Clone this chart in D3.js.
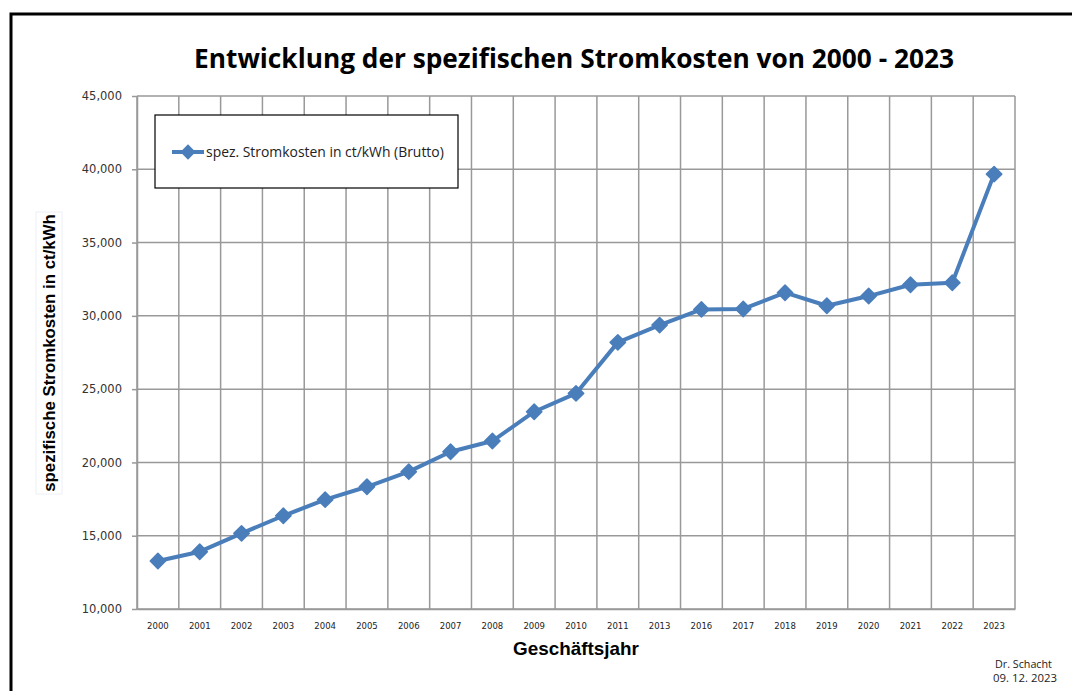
<!DOCTYPE html>
<html>
<head>
<meta charset="utf-8">
<script src="https://cdn.jsdelivr.net/npm/d3@7"></script>
<style>
  body { margin: 0; background: #fff; }
  svg { display: block; }
</style>
</head>
<body>
<svg id="chart" width="1072" height="691"></svg>
<script>
// Daten: spezifische Stromkosten (Brutto) je Geschäftsjahr
let years = ["2000", "2001", "2002", "2003", "2004", "2005", "2006", "2007", "2008", "2009",
  "2010", "2011", "2013", "2016", "2017", "2018", "2019", "2020", "2021", "2022", "2023"];

let kosten = [13.27, 13.91, 15.16, 16.36, 17.46, 18.34, 19.37, 20.73, 21.46, 23.46,
  24.71, 28.19, 29.37, 30.44, 30.47, 31.58, 30.69, 31.35, 32.12, 32.26, 39.67];

let yTicks = [10000, 15000, 20000, 25000, 30000, 35000, 40000, 45000];

let titel = "Entwicklung der spezifischen Stromkosten von 2000 - 2023";
let legendText = "spez. Stromkosten in ct/kWh (Brutto)";

// Plotbereich
let plotLeft = 137, plotRight = 1015, plotTop = 96, plotBottom = 609;
let blue = "#4a7ebb";

let svg = d3.select("#chart");

// Text auf eine bestimmte Breite bringen (Schriftgröße anpassen)
let fitWidth = (sel, size, width) => {
  let w = sel.node().getComputedTextLength();
  sel.style("font-size", (size * width / w) + "px");
};

// Rahmen um alles
svg.append("rect")
  .attr("x", 11).attr("y", 14)
  .attr("width", 1100).attr("height", 720)
  .attr("fill", "none")
  .attr("stroke", "#000")
  .attr("stroke-width", 3);

let x = d3.scaleBand().domain(years).range([plotLeft, plotRight]).padding(0);
let y = d3.scaleLinear().domain([10000, 45000]).range([plotBottom, plotTop]);

// Gitter: waagrecht
svg.append("g")
  .selectAll("line")
  .data(yTicks)
  .enter()
  .append("line")
  .attr("x1", plotLeft).attr("x2", plotRight)
  .attr("y1", (d) => y(d)).attr("y2", (d) => y(d))
  .attr("stroke", "#999")
  .attr("stroke-width", 1.5);

// Gitter: senkrecht (an den Kategoriegrenzen)
let grenzen = years.map((d) => x(d)).concat([plotRight]);
svg.append("g")
  .selectAll("line")
  .data(grenzen)
  .enter()
  .append("line")
  .attr("x1", (d) => d).attr("x2", (d) => d)
  .attr("y1", plotTop).attr("y2", plotBottom)
  .attr("stroke", "#999")
  .attr("stroke-width", 1.5);

// y-Achse
let yAxis = svg.append("g")
  .attr("transform", "translate(" + plotLeft + ",0)")
  .call(d3.axisLeft(y).tickValues(yTicks).tickFormat(d3.format(",")).tickSizeInner(5).tickSizeOuter(0).tickPadding(10));
yAxis.select(".domain").attr("stroke", "#999").attr("stroke-width", 1.5);
yAxis.selectAll(".tick line").attr("stroke", "#999").attr("stroke-width", 1.5);
yAxis.selectAll("text")
  .attr("fill", "#333")
  .style("font-family", "'DejaVu Sans', sans-serif")
  .style("font-size", "11.5px");

// x-Achse
let xAxis = svg.append("g")
  .attr("transform", "translate(0," + plotBottom + ")")
  .call(d3.axisBottom(x).tickSize(0).tickPadding(14));
xAxis.select(".domain").attr("stroke", "#999").attr("stroke-width", 1.5);
xAxis.selectAll("text")
  .attr("fill", "#222")
  .style("font-family", "'DejaVu Sans', sans-serif")
  .style("font-size", "8.5px");

// Linie
let line = d3.line()
  .x((d, i) => x(years[i]) + x.bandwidth() / 2)
  .y((d) => y(d * 1000));

svg.append("path")
  .datum(kosten)
  .attr("d", line)
  .attr("fill", "none")
  .attr("stroke", blue)
  .attr("stroke-width", 4)
  .attr("stroke-linejoin", "round");

// Rauten als Marker
let raute = d3.symbol().type(d3.symbolDiamond2).size(150);
svg.append("g")
  .selectAll("path")
  .data(kosten)
  .enter()
  .append("path")
  .attr("d", raute)
  .attr("transform", (d, i) => "translate(" + (x(years[i]) + x.bandwidth() / 2) + "," + y(d * 1000) + ")")
  .attr("fill", blue)
  .attr("stroke", blue)
  .attr("stroke-width", 1.5)
  .attr("stroke-linejoin", "round");

// Titel
let t = svg.append("text")
  .attr("x", 574).attr("y", 68)
  .attr("text-anchor", "middle")
  .style("font-family", "'Open Sans', sans-serif")
  .style("font-weight", "bold")
  .style("font-size", "24px")
  .attr("fill", "#000")
  .text(titel);
fitWidth(t, 24, 760);

// Legende
svg.append("rect")
  .attr("x", 155).attr("y", 115)
  .attr("width", 303).attr("height", 73)
  .attr("fill", "#fff")
  .attr("stroke", "#000")
  .attr("stroke-width", 1.2);
svg.append("line")
  .attr("x1", 172).attr("x2", 204)
  .attr("y1", 152).attr("y2", 152)
  .attr("stroke", blue)
  .attr("stroke-width", 4);
svg.append("path")
  .attr("d", raute)
  .attr("transform", "translate(188,152)")
  .attr("fill", blue);
let lt = svg.append("text")
  .attr("x", 206).attr("y", 156.5)
  .style("font-family", "'Open Sans', sans-serif")
  .style("font-size", "12px")
  .attr("fill", "#222")
  .text(legendText);
fitWidth(lt, 12, 238);

// Achsentitel
let yt = svg.append("g").attr("transform", "translate(55,353) rotate(-90)");
yt.append("rect")
  .attr("x", -141).attr("y", -19)
  .attr("width", 282).attr("height", 26)
  .attr("fill", "none")
  .attr("stroke", "#edf0f5")
  .attr("stroke-width", 1);
let ytText = yt.append("text")
  .attr("text-anchor", "middle")
  .style("font-family", "'Liberation Sans', Arial, sans-serif")
  .style("font-weight", "bold")
  .style("font-size", "15.5px")
  .attr("fill", "#000")
  .text("spezifische Stromkosten in ct/kWh");
fitWidth(ytText, 15.5, 278);

let xt = svg.append("text")
  .attr("x", 576).attr("y", 655)
  .attr("text-anchor", "middle")
  .style("font-family", "'Liberation Sans', Arial, sans-serif")
  .style("font-weight", "bold")
  .style("font-size", "16px")
  .attr("fill", "#000")
  .text("Geschäftsjahr");
fitWidth(xt, 16, 126);

// Fußzeile
let f1 = svg.append("text")
  .attr("x", 995).attr("y", 668)
  .style("font-family", "'Open Sans', sans-serif")
  .style("font-size", "10px")
  .attr("fill", "#222")
  .text("Dr. Schacht");
fitWidth(f1, 10, 57);
let f2 = svg.append("text")
  .attr("x", 993).attr("y", 682)
  .style("font-family", "'Open Sans', sans-serif")
  .style("font-size", "10px")
  .attr("fill", "#222")
  .text("09. 12. 2023");
fitWidth(f2, 10, 64);
</script>
</body>
</html>
